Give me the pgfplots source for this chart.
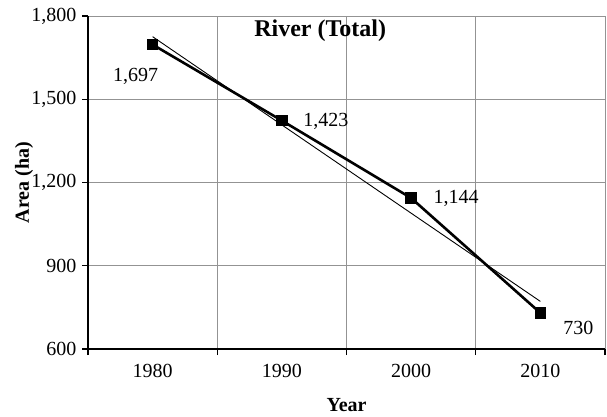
\documentclass[border=0pt]{standalone}
\usepackage{fontspec}
\setmainfont{Liberation Serif}
\usepackage{pgfplots}
\pgfplotsset{compat=1.18}
\usepackage{pgfplotstable}

\pgfplotstableread{
year area dx dy
1980 1697 -17 -32
1990 1423 44 -1
2000 1144 45 0
2010 730 38 -15
}\riverdata

\begin{document}
\begin{tikzpicture}
\path[use as bounding box] (-88pt,-67pt) rectangle (519pt,349pt);
\begin{axis}[
    scale only axis,
    width=517pt, height=333pt,
    at={(0pt,0pt)}, anchor=south west,
    xmin=1975, xmax=2015,
    ymin=600, ymax=1800,
    axis lines*=left,
    axis line style={black, line width=1.3pt},
    xtick={1980,1990,2000,2010},
    minor xtick={1975,1985,1995,2005,2015},
    ytick={600,900,1200,1500,1800},
    xmajorgrids=false,
    xminorgrids=true,
    ymajorgrids=true,
    grid style={gray!85, line width=1pt},
    minor grid style={gray!85, line width=1pt},
    tick align=outside,
    major tick length=6pt,
    minor tick length=6pt,
    x tick style={draw=none},
    minor x tick style={draw=black, line width=1.3pt},
    y tick style={black, line width=1.3pt},
    xticklabel style={yshift=-6pt},
    yticklabel style={xshift=-2pt},
    ticklabel style={font=\fontsize{20}{24}\selectfont},
    /pgf/number format/assume math mode=true,
    /pgf/number format/1000 sep={,},
    xticklabel={\pgfmathprintnumber[1000 sep={}]{\tick}},
    xlabel={\textbf{Year}},
    ylabel={\textbf{Area (ha)}},
    xlabel style={font=\fontsize{20}{24}\selectfont, at={(axis description cs:0.5,0)}, anchor=center, yshift=-56pt},
    ylabel style={font=\fontsize{20}{24}\selectfont, at={(axis description cs:0,0.5)}, anchor=center, rotate=0, yshift=64pt},
    clip=false,
]
\addplot[black, line width=2.6pt, mark=square*, mark size=4.5pt,
    visualization depends on={\thisrow{dx} \as \dx},
    visualization depends on={\thisrow{dy} \as \dy},
    nodes near coords={\pgfmathprintnumber[1000 sep={,}]{\pgfplotspointmeta}},
    nodes near coords style={font=\fontsize{20}{24}\selectfont, anchor=center, xshift=\dx pt, yshift=\dy pt},
    point meta=explicit]
    table[x=year, y=area, meta=area] {\riverdata};
\addplot[black, line width=0.9pt, no markers] coordinates {(1980,1725.5) (2010,771.5)};
\node[font=\bfseries\fontsize{24}{28}\selectfont] at (axis description cs:0.449,0.955) {River (Total)};
\end{axis}
\end{tikzpicture}
\end{document}
